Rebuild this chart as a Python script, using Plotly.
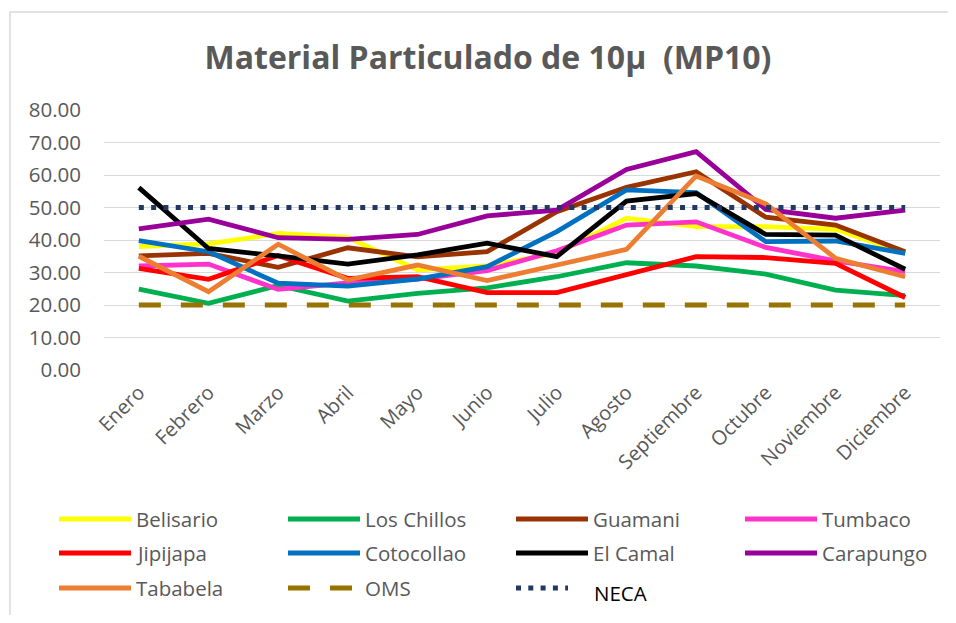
import plotly.graph_objects as go

months = ["Enero", "Febrero", "Marzo", "Abril", "Mayo", "Junio", "Julio",
          "Agosto", "Septiembre", "Octubre", "Noviembre", "Diciembre"]

belisario   = [38.0, 38.8, 42.0, 40.8, 30.8, 32.0, 36.0, 46.7, 44.1, 44.1, 43.3, 36.0]
los_chillos = [24.9, 20.5, 26.0, 21.2, 23.6, 25.3, 28.7, 33.0, 32.0, 29.5, 24.6, 22.9]
guamani     = [35.1, 35.9, 31.6, 37.6, 34.8, 36.4, 48.7, 56.2, 61.0, 47.0, 44.6, 36.4]
tumbaco     = [32.0, 32.6, 24.8, 26.8, 28.0, 30.6, 36.7, 44.6, 45.6, 37.7, 33.6, 30.3]
jipijapa    = [31.3, 27.9, 35.2, 28.2, 28.7, 23.8, 23.8, 29.4, 34.9, 34.6, 32.8, 22.3]
cotocollao  = [39.8, 36.4, 26.7, 25.8, 28.0, 31.8, 42.6, 55.4, 54.6, 39.5, 39.7, 35.9]
el_camal    = [56.1, 37.4, 35.1, 32.6, 35.4, 39.0, 34.9, 52.0, 54.3, 41.7, 41.5, 31.0]
carapungo   = [43.4, 46.4, 40.7, 40.2, 41.7, 47.4, 49.2, 61.7, 67.2, 49.4, 46.7, 49.2]
tababela    = [35.0, 24.1, 38.7, 27.7, 32.3, 27.5, 32.3, 37.1, 59.7, 51.1, 34.4, 28.7]
oms         = [20.0] * 12
neca        = [50.0] * 12

series_names = ["Belisario", "Los Chillos", "Guamani", "Tumbaco", "Jipijapa",
                "Cotocollao", "El Camal", "Carapungo", "Tababela", "OMS", "NECA"]
series_values = [belisario, los_chillos, guamani, tumbaco, jipijapa,
                 cotocollao, el_camal, carapungo, tababela, oms, neca]
series_colors = ["#FFFF00", "#00B050", "#993300", "#FF33CC", "#FF0000",
                 "#0070C0", "#000000", "#990099", "#ED7D31", "#997300", "#203864"]
series_dash = ["solid"] * 9 + ["22px,20px", "5px,7.3px"]
series_width = [4.8] * 9 + [5, 5]

y_ticks = [0, 10, 20, 30, 40, 50, 60, 70, 80]
title_text = "Material Particulado de 10µ \u00a0(MP10)"

# page body has an 8px margin: work in screen pixels and shift
OFF = 8
W, H = 940, 607
L, T = 104 - OFF, 110 - OFF
R = W - (940 - OFF)
B = H - (370 - OFF)
PW, PH = W - L - R, H - T - B

def px_x(x):
    return (x - OFF - L) / PW

def px_y(y):
    return (H - B - (y - OFF)) / PH

FONT = "Open Sans"
GREY = "#595959"

fig = go.Figure()
for name, vals, col, dash, w in zip(series_names, series_values, series_colors,
                                    series_dash, series_width):
    fig.add_trace(go.Scatter(x=months, y=vals, name=name, mode="lines",
                             line=dict(color=col, width=w, dash=dash),
                             showlegend=False))

shapes = []
annotations = []
# chart border (right and bottom edges fall outside the picture)
shapes.append(dict(type="rect", xref="paper", yref="paper",
                   x0=px_x(10), x1=px_x(990), y0=px_y(660), y1=px_y(12),
                   line=dict(color="#D9D9D9", width=1.5), fillcolor="rgba(0,0,0,0)",
                   layer="below"))

# manual legend (4 columns x 3 rows)
col_x = [59, 288, 516, 745]
row_y = [519, 553, 588]
for i, (name, col, dash) in enumerate(zip(series_names, series_colors, series_dash)):
    r, c = divmod(i, 4)
    x0 = col_x[c]
    y = row_y[r]
    x1 = x0 + (52 if name == "NECA" else 72)
    shapes.append(dict(type="line", xref="paper", yref="paper",
                       x0=px_x(x0), x1=px_x(x1), y0=px_y(y), y1=px_y(y),
                       line=dict(color=col, width=5, dash=dash)))
    tx, ty, tcol = x0 + 75, y, GREY
    if name == "NECA":
        tx, ty, tcol = 592, y + 5, "#000000"
    annotations.append(dict(text=name, xref="paper", yref="paper",
                            x=px_x(tx), y=px_y(ty), xanchor="left", yanchor="middle",
                            showarrow=False, font=dict(family=FONT, size=20.5, color=tcol)))

fig.update_layout(
    width=W, height=H,
    margin=dict(l=L, r=R, t=T, b=B),
    paper_bgcolor="white", plot_bgcolor="white",
    title=dict(text=title_text, x=(488 - OFF) / W, xanchor="center",
               y=1 - (58 - OFF) / H, yanchor="middle",
               font=dict(family=FONT, size=32, color=GREY, weight="bold")),
    showlegend=False,
    shapes=shapes,
    annotations=annotations,
    xaxis=dict(type="category", range=[-0.5, 11.5], showgrid=False, showline=False,
               zeroline=False, tickangle=-45, ticks="", ticklabelstandoff=6,
               tickfont=dict(family=FONT, size=20, color=GREY)),
    yaxis=dict(range=[0, 80], tickvals=y_ticks, tickformat=".2f",
               showgrid=True, gridcolor="#D9D9D9", gridwidth=1.2,
               zeroline=False, showline=False, ticks="", ticklabelstandoff=22,
               tickfont=dict(family=FONT, size=20.5, color=GREY)),
)

fig.write_html("out.html")
